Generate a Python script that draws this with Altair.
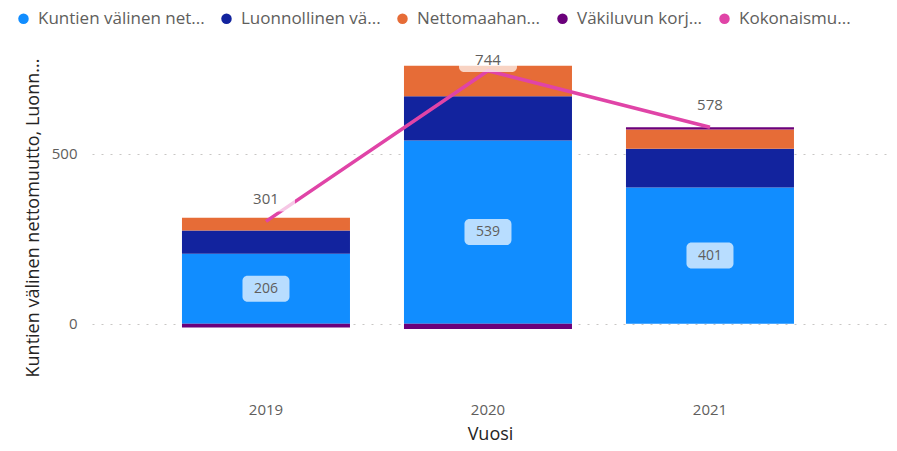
import altair as alt
import pandas as pd

# ---- data ----
years = ["2019", "2020", "2021"]
series = [
    "Kuntien välinen nettomuutto",
    "Luonnollinen väestönlisäys",
    "Nettomaahanmuutto",
    "Väkiluvun korjaus",
    "Kokonaismuutos",
]
short_labels = [
    "Kuntien välinen net...  ",
    "Luonnollinen vä...    ",
    "Nettomaahan...",
    "Väkiluvun korj...   ",
    "Kokonaismu...",
]
colors = ["#118DFF", "#12239E", "#E66C37", "#6B007B", "#E044A7"]

kuntien = [206, 539, 401]
luonnollinen = [68, 130, 114]
nettomaahan = [38, 90, 56]
korjaus = [-11, -15, 7]
kokonais = [301, 744, 578]

FONT = "Open Sans"
Y_MIN, Y_MAX = -180, 805
PX = 335 / (Y_MAX - Y_MIN)  # pixels per unit

# ---- tables ----
rows = []
for i, y in enumerate(years):
    for k, vals in enumerate([kuntien, luonnollinen, nettomaahan, korjaus]):
        rows.append({"year": y, "series": series[k], "value": vals[i], "ord": k})
bars_df = pd.DataFrame(rows)

seg_df = pd.DataFrame({"year": years, "value": kuntien})
tot_df = pd.DataFrame({"year": years, "total": kokonais})

x = alt.X(
    "year:N",
    sort=years,
    scale=alt.Scale(paddingInner=0.243, paddingOuter=0.4143, align=0.489),
    axis=alt.Axis(
        title="Vuosi",
        labelAngle=0,
        domain=False,
        ticks=False,
        labelPadding=17,
        labelFont=FONT,
        labelFontSize=15,
        labelColor="#605E5C",
        titleFont=FONT,
        titleFontSize=18,
        titleFontWeight="normal",
        titleColor="#252423",
        titlePadding=8,
    ),
)

yscale = alt.Scale(domain=[Y_MIN, Y_MAX], nice=False, zero=False)
y_axis = alt.Axis(
    title="Kuntien välinen nettomuutto, Luonn...",
    values=[0, 500],
    grid=True,
    gridDash=[2, 7],
    gridColor="#C8C6C4",
    gridWidth=1,
    domain=False,
    ticks=False,
    labelPadding=15,
    labelFont=FONT,
    labelFontSize=15,
    labelColor="#605E5C",
    titleFont=FONT,
    titleFontSize=18,
    titleFontWeight="normal",
    titleColor="#252423",
    titlePadding=9,
)

label_expr = ""
for full, short in zip(series, short_labels):
    label_expr += f"datum.label == '{full}' ? '{short}' : "
label_expr += "datum.label"

bars = alt.Chart(bars_df).mark_bar(size=168).encode(
    x=x,
    y=alt.Y("value:Q", stack="zero", scale=yscale, axis=y_axis),
    color=alt.Color(
        "series:N",
        scale=alt.Scale(domain=series, range=colors),
        legend=alt.Legend(
            title=None,
            orient="none",
            direction="horizontal",
            legendX=-77,
            legendY=-40,
            symbolType="circle",
            symbolSize=110,
            symbolStrokeWidth=0,
            labelFont=FONT,
            labelFontSize=17,
            labelColor="#605E5C",
            labelOffset=6,
            columnPadding=13,
            labelLimit=400,
            labelExpr=label_expr,
        ),
    ),
    order=alt.Order("ord:Q"),
)

seg_box = alt.Chart(seg_df).transform_calculate(
    lo=f"datum.value/2 - {13 / PX}", hi=f"datum.value/2 + {13 / PX}"
).mark_bar(size=47, color="white", opacity=0.7, cornerRadius=5).encode(
    x=alt.X("year:N", sort=years),
    y=alt.Y("lo:Q", scale=yscale, axis=y_axis),
    y2="hi:Q",
)

seg_text = alt.Chart(seg_df).transform_calculate(
    mid="datum.value/2"
).mark_text(font=FONT, fontSize=14, color="#605E5C").encode(
    x=alt.X("year:N", sort=years),
    y=alt.Y("mid:Q", scale=yscale, axis=y_axis),
    text="value:Q",
)

line = alt.Chart(tot_df).mark_line(color="#E044A7", strokeWidth=3.5).encode(
    x=alt.X("year:N", sort=years),
    y=alt.Y("total:Q", scale=yscale, axis=y_axis),
)

tot_calc = f"min(datum.total + {22 / PX}, {Y_MAX - 10 / PX})"
tot_box = alt.Chart(tot_df).transform_calculate(
    lab=tot_calc
).transform_calculate(
    lo=f"datum.lab - {12 / PX}", hi=f"datum.lab + {12 / PX}"
).mark_bar(size=58, color="white", opacity=0.7, cornerRadius=5).encode(
    x=alt.X("year:N", sort=years),
    y=alt.Y("lo:Q", scale=yscale, axis=y_axis),
    y2="hi:Q",
)

tot_text = alt.Chart(tot_df).transform_calculate(
    lab=tot_calc
).mark_text(font=FONT, fontSize=15, color="#605E5C").encode(
    x=alt.X("year:N", sort=years),
    y=alt.Y("lab:Q", scale=yscale, axis=y_axis),
    text="total:Q",
)

chart = (
    alt.layer(bars, seg_box, seg_text, line, tot_box, tot_text)
    .properties(
        width=796,
        height=335,
        autosize=alt.AutoSizeParams(type="none"),
        padding={"left": 84, "top": 42, "right": 0, "bottom": 62},
    )
    .configure_view(stroke=None)
)

chart.save("out.html", embed_options={"renderer": "svg", "actions": False})
